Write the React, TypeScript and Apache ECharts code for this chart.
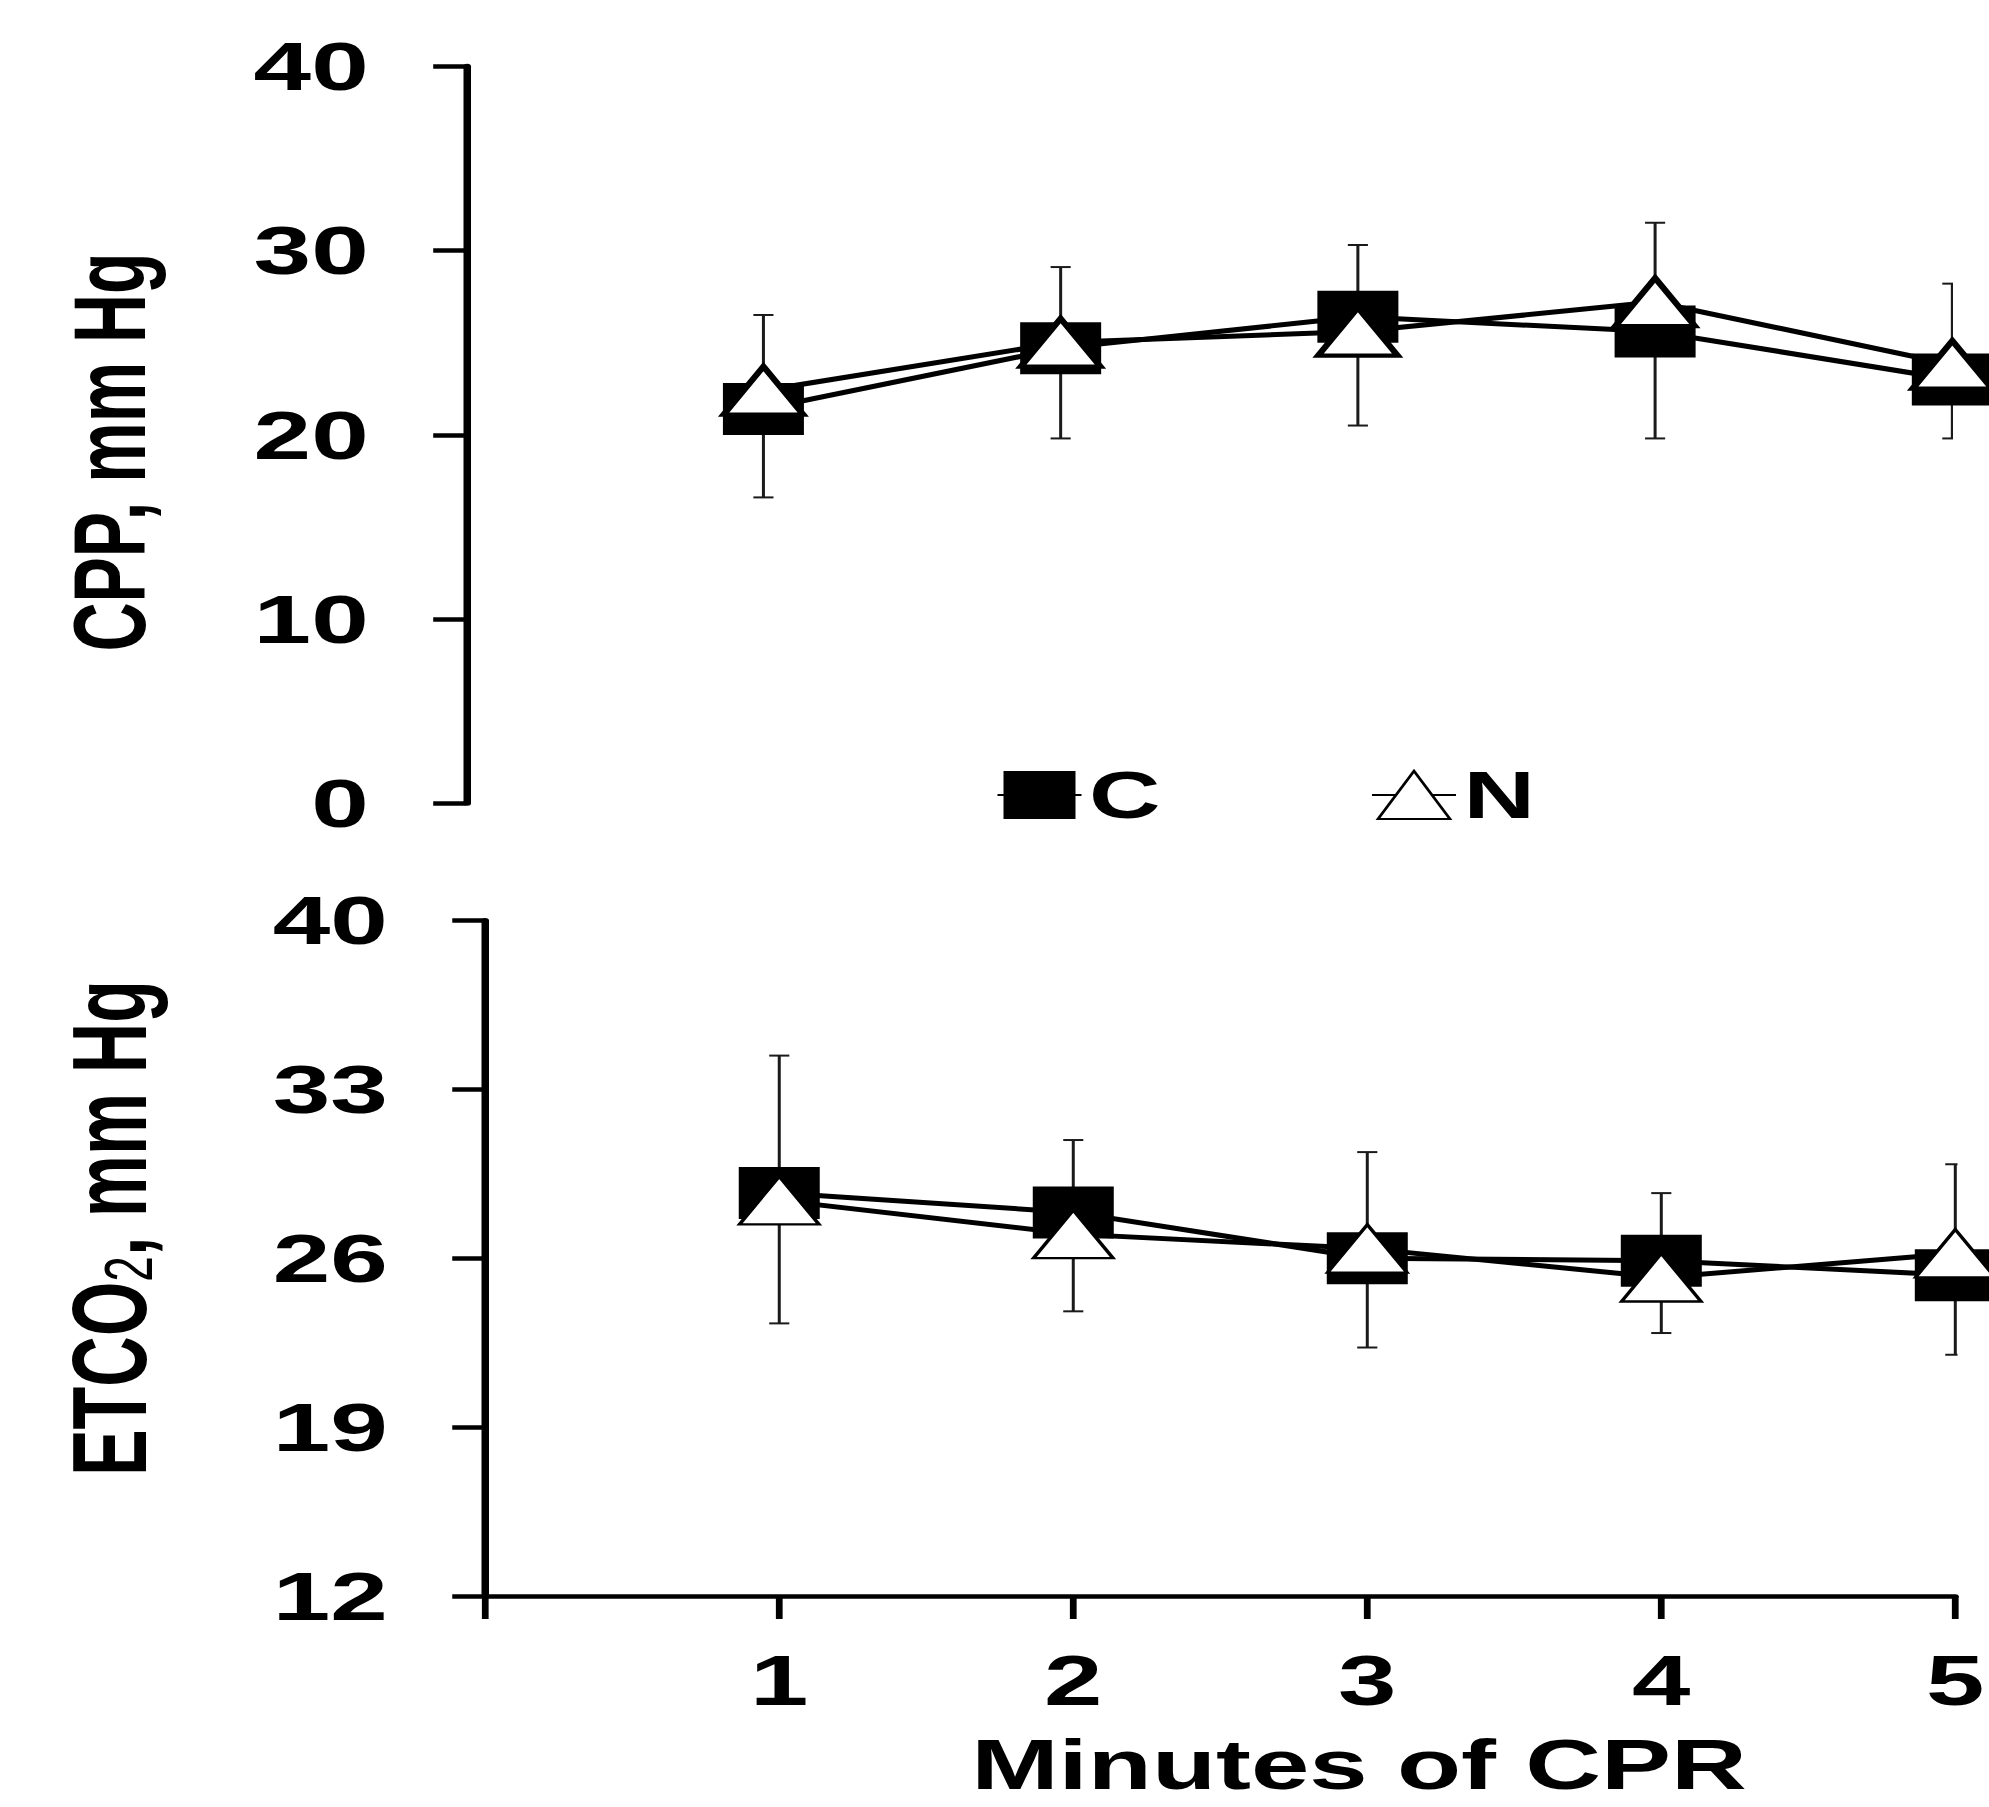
import React, { useEffect, useRef } from "react";
import * as echarts from "echarts";

// ---- data ----
const minutes = [1, 2, 3, 4, 5];
const xTickLabels = ["", "1", "2", "3", "4", "5"];

const cppTicks = [0, 10, 20, 30, 40];
const cppC = [21.4, 24.7, 26.4, 25.6, 23.0];
const cppN = [22.4, 25.0, 25.6, 27.2, 23.8];
const cppErrLow = [16.6, 19.8, 20.5, 19.8, 19.8];
const cppErrHigh = [26.5, 29.1, 30.3, 31.5, 28.2];

const etco2Ticks = [12, 19, 26, 33, 40];
const etco2C = [28.7, 27.9, 26.0, 25.9, 25.3];
const etco2N = [28.4, 27.0, 26.4, 25.2, 26.2];
const etco2ErrLow = [23.3, 23.8, 22.3, 22.9, 22.0];
const etco2ErrHigh = [34.4, 30.9, 30.4, 28.7, 29.9];

const legendNames = ["C", "N"];
const xTitle = "Minutes of CPR";
const cppTitle = "CPP, mm Hg";
const etco2Title = "ETCO{sub|2}, mm Hg";

// ---- layout (the figure is horizontally stretched) ----
const S = 1.5;
const W = 1326;
const H = 1807;
const FONT = "'Liberation Sans', Arial, Helvetica, sans-serif";

function errorBarSeries(xIdx: number, yIdx: number, lo: number[], hi: number[]) {
  return {
    type: "custom",
    xAxisIndex: xIdx,
    yAxisIndex: yIdx,
    silent: true,
    clip: true,
    z: 1,
    data: minutes.map((m, i) => [m, lo[i], hi[i]]),
    encode: { x: 0, y: [1, 2] },
    renderItem: (params: any, api: any) => {
      const x = api.value(0);
      const pLo = api.coord([x, api.value(1)]);
      const pHi = api.coord([x, api.value(2)]);
      const hw = 6.7;
      const style = { stroke: "#1a1a1a", lineWidth: 2 };
      return {
        type: "group",
        children: [
          { type: "line", shape: { x1: pLo[0], y1: pLo[1], x2: pHi[0], y2: pHi[1] }, style },
          { type: "line", shape: { x1: pLo[0] - hw, y1: pLo[1], x2: pLo[0] + hw, y2: pLo[1] }, style },
          { type: "line", shape: { x1: pHi[0] - hw, y1: pHi[1], x2: pHi[0] + hw, y2: pHi[1] }, style },
        ],
      };
    },
  };
}

function lineSeries(name: string, xIdx: number, yIdx: number, vals: number[], tri: boolean, border: number) {
  return {
    type: "line",
    name,
    xAxisIndex: xIdx,
    yAxisIndex: yIdx,
    silent: true,
    clip: false,
    z: tri ? 4 : 3,
    data: minutes.map((m, i) => [m, vals[i]]),
    symbol: tri ? "triangle" : "rect",
    symbolSize: tri ? [53, 48] : [54, 52],
    itemStyle: tri
      ? { color: "#ffffff", borderColor: "#000000", borderWidth: border }
      : { color: "#000000" },
    lineStyle: { color: "#000000", width: 5 },
    emphasis: { disabled: true },
  };
}

const labelStyle = {
  color: "#000",
  fontFamily: FONT,
  fontWeight: "bold" as const,
};

export default function App() {
  const ref = useRef<HTMLDivElement>(null);

  useEffect(() => {
    if (!ref.current) return;
    const chart = echarts.init(ref.current, null, { renderer: "svg" });

    const option: any = {
      animation: false,
      backgroundColor: "#ffffff",
      grid: [
        { left: 310.8, top: 66.2, width: 990.75, height: 737.1 },
        { left: 323.5, top: 920.5, width: 995, height: 675.5 },
      ],
      xAxis: [
        { gridIndex: 0, type: "value", min: 0, max: 5, interval: 1, show: false },
        {
          gridIndex: 1,
          type: "value",
          min: 0,
          max: 5,
          interval: 1,
          axisLine: { show: true, lineStyle: { color: "#000", width: 4.5 } },
          axisTick: { show: true, length: 23, lineStyle: { color: "#000", width: 4.5 } },
          axisLabel: {
            ...labelStyle,
            fontSize: 70,
            margin: 50,
            formatter: (v: number) => xTickLabels[Math.round(v)] ?? "",
          },
          splitLine: { show: false },
        },
      ],
      yAxis: [
        {
          gridIndex: 0,
          type: "value",
          min: cppTicks[0],
          max: cppTicks[cppTicks.length - 1],
          interval: 10,
          axisLine: { show: true, lineStyle: { color: "#000", width: 5 } },
          axisTick: { show: true, length: 22, lineStyle: { color: "#000", width: 4.5 } },
          axisLabel: { ...labelStyle, fontSize: 69, margin: 65 },
          splitLine: { show: false },
        },
        {
          gridIndex: 1,
          type: "value",
          min: etco2Ticks[0],
          max: etco2Ticks[etco2Ticks.length - 1],
          axisLine: { show: true, lineStyle: { color: "#000", width: 5 } },
          axisTick: {
            show: true,
            length: 22,
            customValues: etco2Ticks,
            lineStyle: { color: "#000", width: 4.5 },
          },
          axisLabel: { ...labelStyle, fontSize: 69, margin: 65, customValues: etco2Ticks },
          splitLine: { show: false },
        },
      ],
      legend: {
        data: legendNames,
        left: 659,
        top: 757,
        itemWidth: 56,
        itemHeight: 60,
        itemGap: 140,
        selectedMode: false,
        textStyle: { ...labelStyle, fontSize: 66 },
      },
      graphic: {
        elements: [
          {
            type: "text",
            x: 73,
            y: 452,
            rotation: Math.PI / 2,
            silent: true,
            style: {
              text: cppTitle,
              fontSize: 68,
              fontWeight: "bold",
              fontFamily: FONT,
              fill: "#000",
              align: "center",
              verticalAlign: "middle",
            },
          },
          {
            type: "text",
            x: 73,
            y: 1228,
            rotation: Math.PI / 2,
            silent: true,
            style: {
              text: etco2Title,
              fontSize: 70,
              fontWeight: "bold",
              fontFamily: FONT,
              fill: "#000",
              align: "center",
              verticalAlign: "middle",
              lineHeight: 70,
              rich: {
                sub: {
                  fontSize: 46,
                  fontWeight: "normal",
                  fontFamily: FONT,
                  fill: "#000",
                  lineHeight: 22,
                  verticalAlign: "bottom",
                },
              },
            },
          },
          {
            type: "text",
            x: 906,
            y: 1795,
            silent: true,
            style: {
              text: xTitle,
              fontSize: 70,
              fontWeight: "bold",
              fontFamily: FONT,
              fill: "#000",
              align: "center",
              verticalAlign: "bottom",
              lineHeight: 60,
            },
          },
        ],
      },
      series: [
        errorBarSeries(0, 0, cppErrLow, cppErrHigh),
        errorBarSeries(1, 1, etco2ErrLow, etco2ErrHigh),
        lineSeries(legendNames[0], 0, 0, cppC, false, 0),
        lineSeries(legendNames[1], 0, 0, cppN, true, 4.5),
        lineSeries(legendNames[0], 1, 1, etco2C, false, 0),
        lineSeries(legendNames[1], 1, 1, etco2N, true, 2.5),
      ],
    };

    chart.setOption(option);
    return () => chart.dispose();
  }, []);

  return (
    <div
      ref={ref}
      style={{
        position: "absolute",
        left: 0,
        top: 0,
        width: W,
        height: H,
        transform: `scaleX(${S})`,
        transformOrigin: "0 0",
        background: "#fff",
      }}
    />
  );
}
